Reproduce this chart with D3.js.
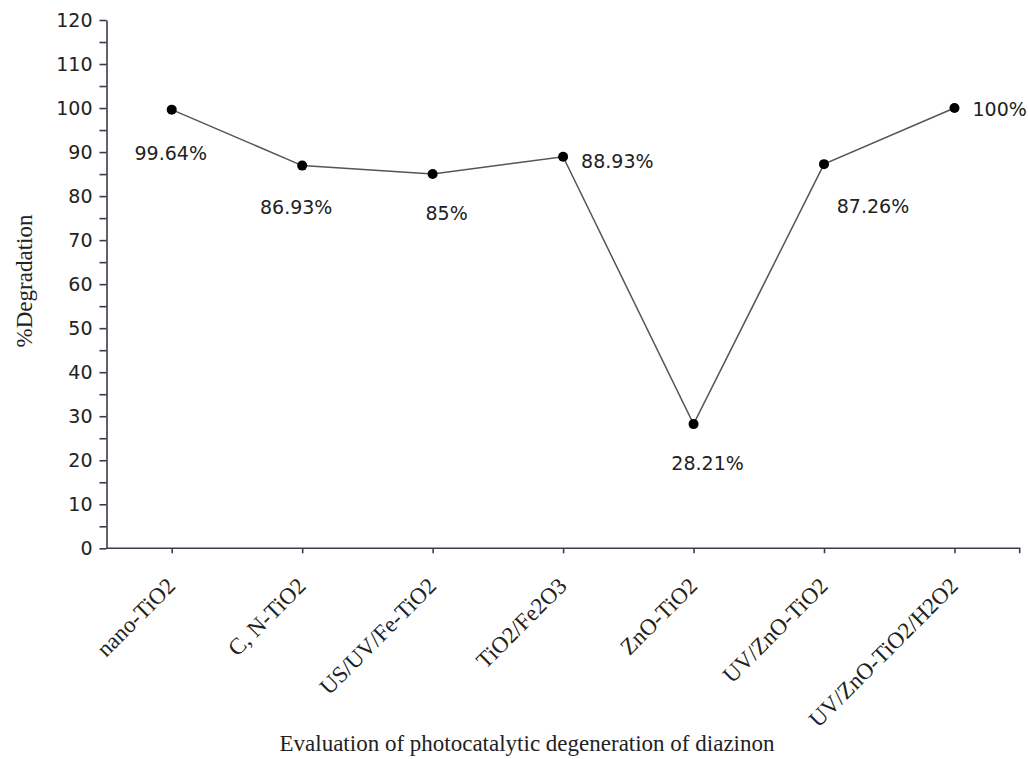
<!DOCTYPE html>
<html>
<head>
<meta charset="utf-8">
<script src="https://cdn.jsdelivr.net/npm/d3@7"></script>
<style>
  html, body { margin: 0; padding: 0; background: #fff; }
  svg { display: block; }
</style>
</head>
<body>
<script>
// ---- data ----
const categories = ["nano-TiO2", "C, N-TiO2", "US/UV/Fe-TiO2", "TiO2/Fe2O3", "ZnO-TiO2", "UV/ZnO-TiO2", "UV/ZnO-TiO2/H2O2"];
const degradation = [99.64, 86.93, 85, 88.93, 28.21, 87.26, 100];
const valueLabels = ["99.64%", "86.93%", "85%", "88.93%", "28.21%", "87.26%", "100%"];
const yTickValues = d3.range(0, 121, 5);
const yTitle = "%Degradation";
const xTitle = "Evaluation of photocatalytic degeneration of diazinon";

// ---- layout (label placement relative to each point: dx, dy, anchor) ----
const labelPlacement = [
  {dx: -1, dy: 50, anchor: "middle"},
  {dx: -6, dy: 48, anchor: "middle"},
  {dx: 14, dy: 46, anchor: "middle"},
  {dx: 18, dy: 11, anchor: "start"},
  {dx: 14, dy: 46, anchor: "middle"},
  {dx: 49, dy: 49, anchor: "middle"},
  {dx: 18, dy: 8, anchor: "start"}
];

const W = 1028, H = 759;
const plot = {left: 106.5, right: 1019.7, top: 20, bottom: 548.3};
const axisColor = "#3b3b4a";
const sansFont = "'DejaVu Sans', Verdana, sans-serif";
const serifFont = "'Liberation Serif', 'Times New Roman', serif";

const svg = d3.select("body").append("svg").attr("width", W).attr("height", H);

const x = d3.scalePoint().domain(categories).range([plot.left, plot.right]).padding(0.5);
const y = d3.scaleLinear().domain([0, 120]).range([plot.bottom, plot.top]);

// y axis
const yAxis = svg.append("g")
  .attr("transform", `translate(${plot.left},0)`)
  .call(d3.axisLeft(y).tickValues(yTickValues).tickSize(7).tickPadding(7).tickSizeOuter(0)
    .tickFormat(d => d % 10 === 0 ? d : ""));
yAxis.selectAll("path, line").attr("stroke", axisColor).attr("stroke-width", 1.6);
yAxis.selectAll("text").attr("font-family", sansFont).attr("font-size", 19).attr("fill", "#222");

// x axis
const xAxis = svg.append("g")
  .attr("transform", `translate(0,${plot.bottom})`)
  .call(d3.axisBottom(x).tickSize(5).tickSizeOuter(0).tickFormat(""));
xAxis.select(".domain").remove();
xAxis.append("path")
  .attr("d", `M${plot.left},0H${plot.right}V5`)
  .attr("fill", "none");
xAxis.selectAll("path, line").attr("stroke", axisColor).attr("stroke-width", 1.6);

// x tick labels rotated
svg.append("g").selectAll("text")
  .data(categories)
  .join("text")
  .attr("transform", d => `translate(${x(d) + 5},${plot.bottom + 39}) rotate(-45)`)
  .attr("text-anchor", "end")
  .attr("font-family", serifFont)
  .attr("font-size", 23)
  .attr("fill", "#222")
  .text(d => d);

// line
const pts = categories.map((c, i) => ({c, v: degradation[i], label: valueLabels[i], p: labelPlacement[i]}));
svg.append("path")
  .datum(pts)
  .attr("fill", "none")
  .attr("stroke", "#555")
  .attr("stroke-width", 1.5)
  .attr("d", d3.line().x(d => x(d.c)).y(d => y(d.v)));

svg.append("g").selectAll("circle")
  .data(pts)
  .join("circle")
  .attr("cx", d => x(d.c))
  .attr("cy", d => y(d.v))
  .attr("r", 5)
  .attr("fill", "#000");

// value labels
svg.append("g").selectAll("text")
  .data(pts)
  .join("text")
  .attr("x", d => x(d.c) + d.p.dx)
  .attr("y", d => y(d.v) + d.p.dy)
  .attr("text-anchor", d => d.p.anchor)
  .attr("font-family", sansFont)
  .attr("font-size", 19)
  .attr("fill", "#222")
  .text(d => d.label);

// axis titles
svg.append("text")
  .attr("transform", `translate(32,${281}) rotate(-90)`)
  .attr("text-anchor", "middle")
  .attr("font-family", serifFont)
  .attr("font-size", 23)
  .attr("fill", "#222")
  .text(yTitle);

svg.append("text")
  .attr("x", 527)
  .attr("y", 751)
  .attr("text-anchor", "middle")
  .attr("font-family", serifFont)
  .attr("font-size", 23)
  .attr("fill", "#222")
  .text(xTitle);
</script>
</body>
</html>
